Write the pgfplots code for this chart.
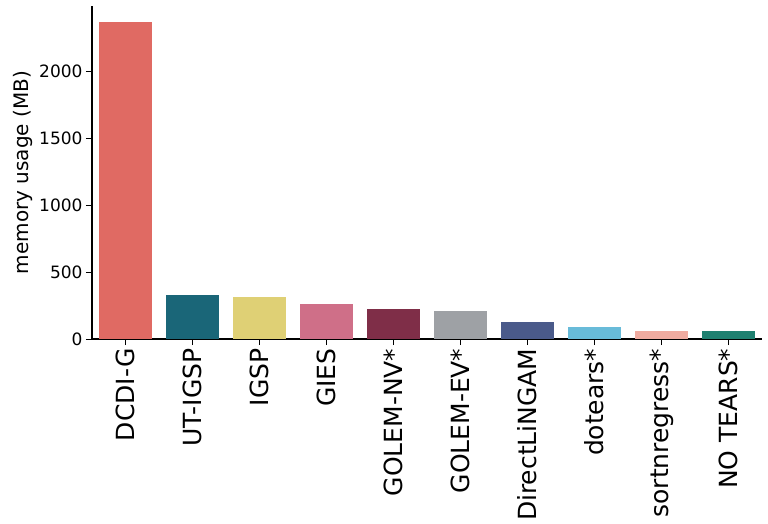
\documentclass[border=0pt]{standalone}
\usepackage{fontspec}
\setmainfont{DejaVu Sans}
\usepackage{pgfplots}
\pgfplotsset{compat=1.18}
\definecolor{c0}{HTML}{E06A63}
\definecolor{c1}{HTML}{1A6678}
\definecolor{c2}{HTML}{DFD075}
\definecolor{c3}{HTML}{CF6F88}
\definecolor{c4}{HTML}{7F2E48}
\definecolor{c5}{HTML}{9EA1A5}
\definecolor{c6}{HTML}{4A5A8A}
\definecolor{c7}{HTML}{68BBD9}
\definecolor{c8}{HTML}{F0ABA0}
\definecolor{c9}{HTML}{1E8070}
\begin{document}
\begin{tikzpicture}
\path[use as bounding box] (-92bp,-185bp) rectangle (676bp,339bp);
\begin{axis}[
  anchor=south west, at={(0,0)},
  scale only axis, width=670bp, height=333bp,
  xmin=-0.5, xmax=9.5, ymin=0, ymax=2491,
  axis x line*=bottom, axis y line*=left,
  axis line style={line width=1.5bp},
  xtick={0,...,9},
  xticklabels={DCDI-G,UT-IGSP,IGSP,GIES,GOLEM-NV*,GOLEM-EV*,DirectLiNGAM,dotears*,sortnregress*,NO TEARS*},
  ytick={0,500,1000,1500,2000},
  tick align=outside, tick pos=left,
  major tick length=6bp,
  every tick/.style={black, line width=0.8bp},
  /pgf/number format/assume math mode=true,
  scaled y ticks=false,
  yticklabel style={font=\fontsize{17bp}{20bp}\selectfont, /pgf/number format/1000 sep={}},
  xticklabel style={font=\fontsize{25bp}{29bp}\selectfont, rotate=90, anchor=east},
  ylabel={memory usage (MB)},
  every axis y label/.style={at={(ticklabel cs:0.5)}, rotate=90, anchor=south, font=\fontsize{20bp}{24bp}\selectfont},
  ybar, bar width=0.8, bar shift=0pt,
]
\addplot[fill=c0, draw=none] coordinates {(0,2372)};
\addplot[fill=c1, draw=none] coordinates {(1,332)};
\addplot[fill=c2, draw=none] coordinates {(2,317)};
\addplot[fill=c3, draw=none] coordinates {(3,265)};
\addplot[fill=c4, draw=none] coordinates {(4,227)};
\addplot[fill=c5, draw=none] coordinates {(5,212)};
\addplot[fill=c6, draw=none] coordinates {(6,130)};
\addplot[fill=c7, draw=none] coordinates {(7,92)};
\addplot[fill=c8, draw=none] coordinates {(8,62)};
\addplot[fill=c9, draw=none] coordinates {(9,62)};
\end{axis}
\end{tikzpicture}
\end{document}
